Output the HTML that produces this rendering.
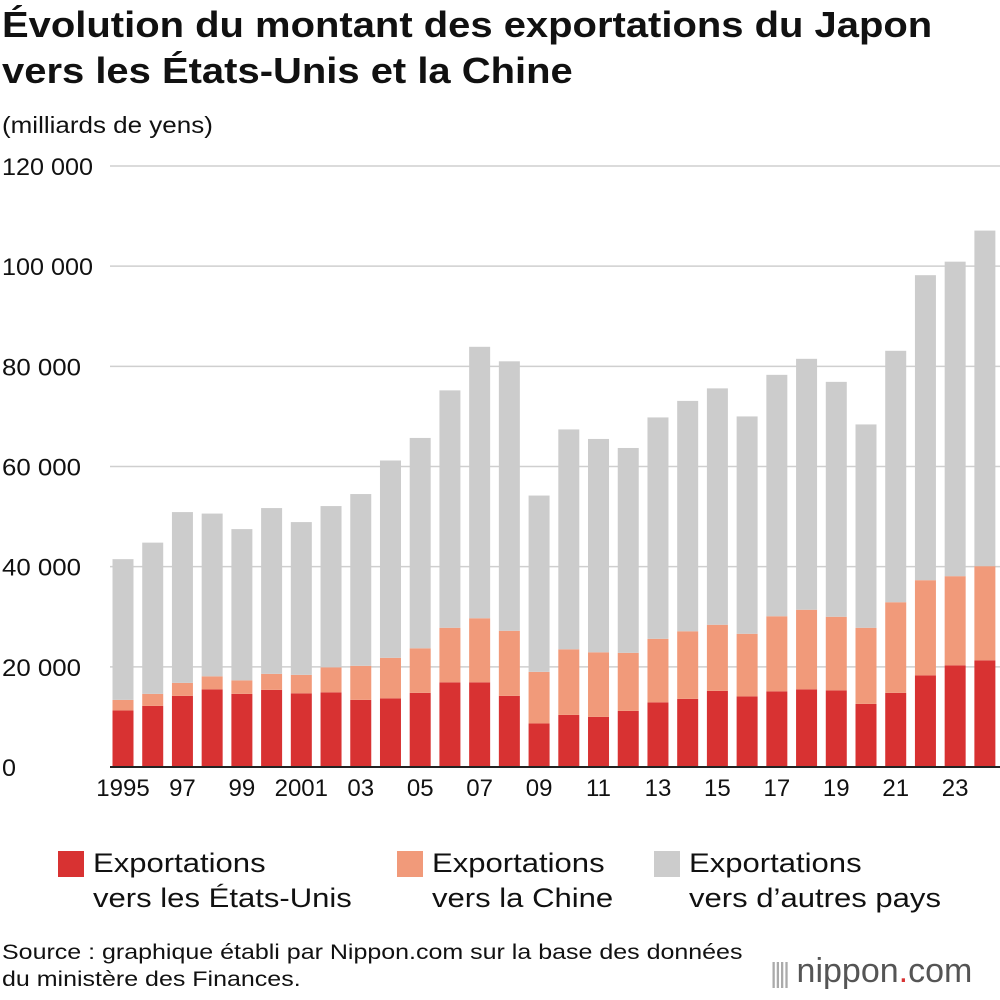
<!DOCTYPE html>
<html><head><meta charset="utf-8"><style>
body{margin:0;width:1000px;height:1000px;background:#fff;font-family:"Liberation Sans",Arial,sans-serif;overflow:hidden;position:relative;color:#111}
.t{position:absolute;transform-origin:0 0;white-space:nowrap}
</style></head><body>
<div class="t" style="left:2px;top:2px;font-size:36px;font-weight:bold;line-height:46px;transform:scaleX(1.11)">Évolution du montant des exportations du Japon<br>vers les États-Unis et la Chine</div>
<div class="t" style="left:2px;top:112px;font-size:23px;transform:scaleX(1.13)">(milliards de yens)</div>
<svg id="c" width="1000" height="1000" style="position:absolute;left:0;top:0"></svg>
<div class="t" style="left:58px;top:846px;font-size:27px;line-height:35px"><span style="position:absolute;left:0;top:5px;width:26px;height:26px;background:#d83232"></span><div style="margin-left:35px;transform:scaleX(1.15);transform-origin:0 0">Exportations<br>vers les États-Unis</div></div>
<div class="t" style="left:397px;top:846px;font-size:27px;line-height:35px"><span style="position:absolute;left:0;top:5px;width:26px;height:26px;background:#f19a7a"></span><div style="margin-left:35px;transform:scaleX(1.15);transform-origin:0 0">Exportations<br>vers la Chine</div></div>
<div class="t" style="left:654px;top:846px;font-size:27px;line-height:35px"><span style="position:absolute;left:0;top:5px;width:26px;height:26px;background:#cccccc"></span><div style="margin-left:35px;transform:scaleX(1.15);transform-origin:0 0">Exportations<br>vers d’autres pays</div></div>
<div class="t" style="left:2px;top:939px;font-size:21px;line-height:27px;transform:scaleX(1.19)">Source : graphique établi par Nippon.com sur la base des données<br>du ministère des Finances.</div>
<div class="t" style="left:770px;top:952px;font-size:34px;color:#555"><span style="color:#aaa;letter-spacing:-3px;font-size:28px">||||</span> nippon<span style="color:#d83232">.</span>com</div>
<script>
const years=[1995,1996,1997,1998,1999,2000,2001,2002,2003,2004,2005,2006,2007,2008,2009,2010,2011,2012,2013,2014,2015,2016,2017,2018,2019,2020,2021,2022,2023,2024];
const us=[11300,12200,14200,15500,14600,15400,14700,14900,13400,13700,14800,16900,16900,14200,8700,10400,10000,11200,12900,13600,15200,14100,15100,15500,15300,12600,14800,18300,20300,21300];
const china=[2100,2400,2600,2600,2700,3200,3700,5000,6800,8100,8900,10900,12800,13000,10300,13100,12900,11600,12700,13500,13200,12500,15000,15900,14700,15200,18100,19000,17800,18800];
const other=[28100,30200,34100,32500,30200,33100,30500,32200,34300,39400,42000,47400,54200,53800,35200,43900,42600,40900,44200,46000,47200,43400,48200,50100,46900,40600,50200,60900,62800,67000];
const yTicks=[0,20000,40000,60000,80000,100000,120000];
const xLabels=["1995","97","99","2001","03","05","07","09","11","13","15","17","19","21","23"];
const svg=document.getElementById('c');const NS='http://www.w3.org/2000/svg';
const y=v=>767-v*(601/120000);
const x=i=>123+i*29.72;
function mk(t,a){const e=document.createElementNS(NS,t);for(const k in a)e.setAttribute(k,a[k]);svg.appendChild(e);return e;}
yTicks.forEach(v=>{
 const l=mk('line',{x1:110,x2:1000,y1:y(v),y2:y(v),stroke:v?'#cfcfcf':'#222','stroke-width':v?1.5:2});
 
 
 const t=mk('text',{x:2,y:y(v)+9,'font-size':24,fill:'#111',textLength:v?(v>=100000?91:79):14,lengthAdjust:'spacingAndGlyphs'});t.textContent=v?v.toLocaleString('en').replace(',',' '):'0';
 
 
});
years.forEach((yr,i)=>{
 const w=21,cx=x(i);let base=0;
 [[us[i],'#d83232'],[china[i],'#f19a7a'],[other[i],'#cccccc']].forEach(([v,c],k)=>{
  const r=mk('rect',{x:cx-w/2,y:y(base+v),width:w,height:y(base)-y(base+v),fill:c});
  
  
  base+=v;});
});
const b=mk('line',{x1:110,x2:1000,y1:y(0),y2:y(0),stroke:'#222','stroke-width':2});


xLabels.forEach((s,k)=>{const t=mk('text',{x:x(k*2),y:796,'font-size':24,'text-anchor':'middle',fill:'#111'});t.textContent=s;
 
 });
</script>
</body></html>
